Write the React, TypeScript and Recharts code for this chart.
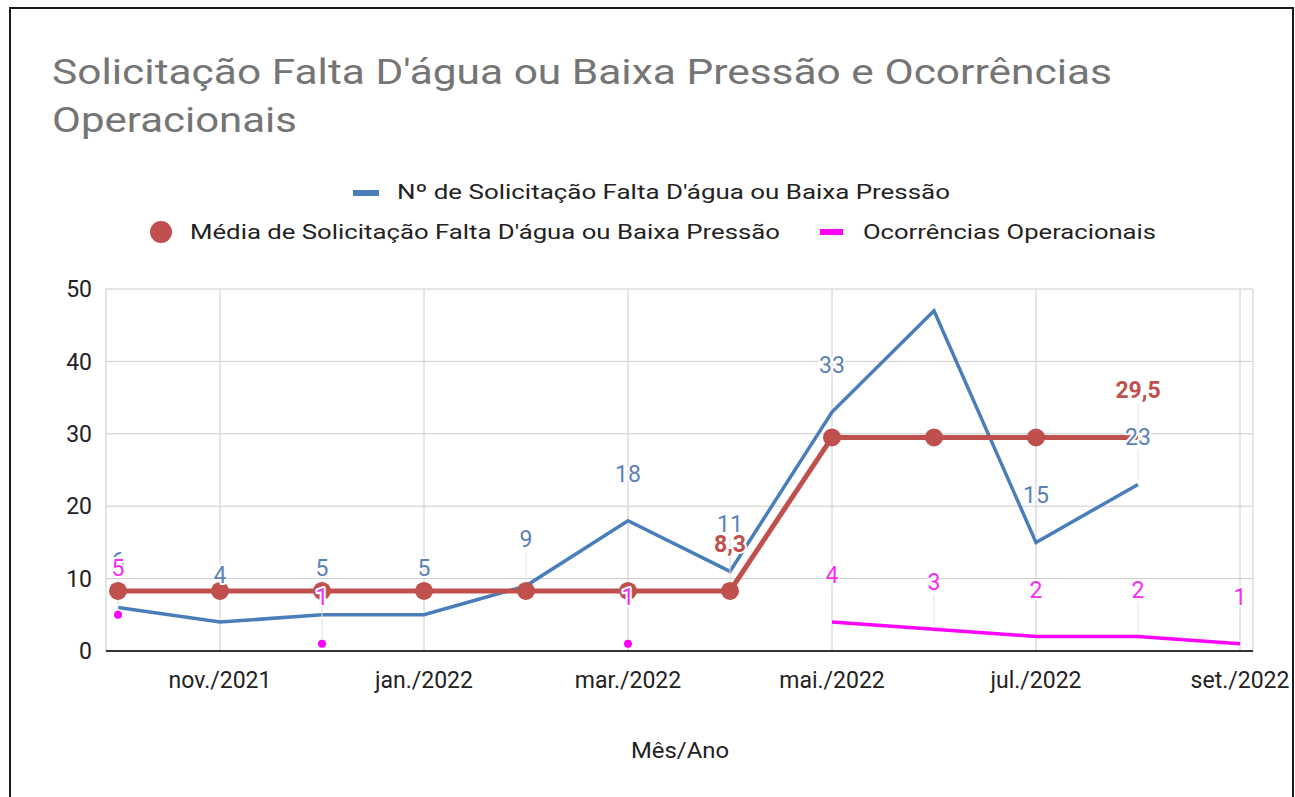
import React from 'react';
import { LineChart, Line, XAxis, YAxis, CartesianGrid, LabelList } from 'recharts';

const meses = [
  'out./2021', 'nov./2021', 'dez./2021', 'jan./2022', 'fev./2022', 'mar./2022',
  'abr./2022', 'mai./2022', 'jun./2022', 'jul./2022', 'ago./2022', 'set./2022',
];
const solicitacoes = [6, 4, 5, 5, 9, 18, 11, 33, 47, 15, 23, null];
const mediaSolicitacoes = [8.3, 8.3, 8.3, 8.3, 8.3, 8.3, 8.3, 29.5, 29.5, 29.5, 29.5, null];
const ocorrencias = [5, null, 1, null, null, 1, null, 4, 3, 2, 2, 1];
const mesesComRotulo = ['nov./2021', 'jan./2022', 'mar./2022', 'mai./2022', 'jul./2022', 'set./2022'];
const yTicks = [0, 10, 20, 30, 40, 50];

const data = meses.map((mes, i) => ({
  idx: i,
  mes,
  sol: solicitacoes[i],
  media: mediaSolicitacoes[i],
  ocor: ocorrencias[i],
}));
const xTicks = mesesComRotulo.map((m) => meses.indexOf(m));

const AZUL = '#4a7ebb';
const VERMELHO = '#c0504d';
const MAGENTA = '#ff00ff';
const FONT = 'Roboto, Arial, sans-serif';
const PLOT_TOP = 289;
const LABEL_GAP = 39;

const lastMedia = mediaSolicitacoes.reduce((acc: number, v, i) => (v == null ? acc : i), -1);

// which points get a data label
const showSol = (i: number, y: number) => solicitacoes[i] != null && y - LABEL_GAP - 17 >= PLOT_TOP;
const showMedia = (i: number) =>
  mediaSolicitacoes[i] != null && mediaSolicitacoes[i + 1] !== mediaSolicitacoes[i];
const showOcor = (i: number) => ocorrencias[i] != null;

const fmt = (v: number) => String(v).replace('.', ',');

function leader(show: (i: number, y: number) => boolean) {
  return (props: any) => {
    const { cx, cy, index } = props;
    if (cx == null || cy == null || !show(index, cy)) return <g key={`ld-${index}`} />;
    return <line key={`ld-${index}`} x1={cx} x2={cx} y1={cy - 34} y2={cy - 4} stroke="#e2e2e2" strokeWidth={1} />;
  };
}

function label(show: (i: number, y: number) => boolean, color: string, bold = false) {
  return (props: any) => {
    const x = props.x ?? props.viewBox?.x;
    const y = props.y ?? props.viewBox?.y;
    const { value, index } = props;
    if (value == null || x == null || y == null || !show(index, y)) return null;
    return (
      <text
        x={x}
        y={y - LABEL_GAP}
        textAnchor="middle"
        fill={color}
        fontWeight={bold ? 700 : 400}
        style={{
          fontFamily: FONT,
          fontSize: 23,
          stroke: '#fff',
          strokeWidth: 4,
          paintOrder: 'stroke',
          strokeLinejoin: 'round',
        }}
      >
        {fmt(value)}
      </text>
    );
  };
}

const redDot = (props: any) => {
  const { cx, cy, index } = props;
  if (cx == null || cy == null || mediaSolicitacoes[index] == null || index === lastMedia)
    return <g key={`rd-${index}`} />;
  return <circle key={`rd-${index}`} cx={cx} cy={cy} r={9} fill={VERMELHO} />;
};

const magentaDot = (props: any) => {
  const { cx, cy, index } = props;
  const alone =
    ocorrencias[index] != null && ocorrencias[index - 1] == null && ocorrencias[index + 1] == null;
  if (cx == null || cy == null || !alone) return <g key={`md-${index}`} />;
  return <circle key={`md-${index}`} cx={cx} cy={cy} r={4} fill={MAGENTA} />;
};

export default function App() {
  return (
    <div style={{ position: 'fixed', left: 0, top: 0, width: 1295, height: 797, overflow: 'hidden', background: '#fff' }}>
      <div
        style={{
          position: 'absolute',
          left: 9,
          top: 7,
          width: 1281,
          height: 900,
          border: '2px solid #1a1a1a',
        }}
      />
      <div style={{ position: 'absolute', left: 0, top: 0 }}>
        <LineChart width={1295} height={797} data={data} margin={{ top: PLOT_TOP, right: 42, bottom: 116, left: 46 }}>
          <CartesianGrid stroke="#cccccc" />
          <XAxis
            type="number"
            dataKey="idx"
            domain={[0, 11]}
            ticks={xTicks}
            interval={0}
            height={30}
            tickFormatter={(v) => meses[v]}
            padding={{ left: 12, right: 13 }}
            axisLine={{ stroke: '#333', strokeWidth: 2 }}
            tickLine={false}
            tickMargin={15}
            tick={{ fontSize: 23, fill: '#222', fontFamily: FONT }}
          />
          <YAxis
            domain={[0, 50]}
            ticks={yTicks}
            interval={0}
            width={60}
            axisLine={false}
            tickLine={false}
            tickMargin={8}
            tick={{ fontSize: 23, fill: '#222', fontFamily: FONT }}
          />
          {/* leader lines under the series */}
          <Line dataKey="sol" stroke="none" dot={leader(showSol)} activeDot={false} legendType="none" isAnimationActive={false} />
          <Line dataKey="media" stroke="none" dot={leader((i) => showMedia(i))} activeDot={false} legendType="none" isAnimationActive={false} />
          <Line dataKey="ocor" stroke="none" dot={leader((i) => showOcor(i))} activeDot={false} legendType="none" isAnimationActive={false} />

          <Line dataKey="sol" stroke={AZUL} strokeWidth={3.5} dot={false} activeDot={false} isAnimationActive={false} />
          <Line dataKey="media" stroke={VERMELHO} strokeWidth={5} dot={redDot} activeDot={false} isAnimationActive={false} />
          <Line dataKey="ocor" stroke={MAGENTA} strokeWidth={3.5} dot={magentaDot} activeDot={false} isAnimationActive={false} />

          <Line dataKey="sol" stroke="none" dot={false} activeDot={false} legendType="none" isAnimationActive={false}>
            <LabelList dataKey="sol" content={label(showSol, '#5b82b8')} />
          </Line>
          <Line dataKey="media" stroke="none" dot={false} activeDot={false} legendType="none" isAnimationActive={false}>
            <LabelList dataKey="media" content={label((i) => showMedia(i), VERMELHO, true)} />
          </Line>
          <Line dataKey="ocor" stroke="none" dot={false} activeDot={false} legendType="none" isAnimationActive={false}>
            <LabelList dataKey="ocor" content={label((i) => showOcor(i), '#f72af7')} />
          </Line>
        </LineChart>
      </div>
      <svg width={1295} height={797} style={{ position: 'absolute', left: 0, top: 0, pointerEvents: 'none' }}>
        <g style={{ fontFamily: FONT }}>
          <text x={52} y={84} fontSize={35} fill="#757575" textLength={1060} lengthAdjust="spacingAndGlyphs">
            Solicitação Falta D'água ou Baixa Pressão e Ocorrências
          </text>
          <text x={52} y={132} fontSize={35} fill="#757575" textLength={245} lengthAdjust="spacingAndGlyphs">
            Operacionais
          </text>

          <rect x={353} y={190} width={26} height={6} fill={AZUL} />
          <text x={397} y={199} fontSize={21} fill="#222" textLength={553} lengthAdjust="spacingAndGlyphs">
            Nº de Solicitação Falta D'água ou Baixa Pressão
          </text>
          <circle cx={161} cy={232} r={11} fill={VERMELHO} />
          <text x={190} y={239} fontSize={21} fill="#222" textLength={590} lengthAdjust="spacingAndGlyphs">
            Média de Solicitação Falta D'água ou Baixa Pressão
          </text>
          <rect x={820} y={229} width={23} height={6} fill={MAGENTA} />
          <text x={863} y={239} fontSize={21} fill="#222" textLength={293} lengthAdjust="spacingAndGlyphs">
            Ocorrências Operacionais
          </text>

          <text x={631} y={758} fontSize={22} fill="#222" textLength={98} lengthAdjust="spacingAndGlyphs">
            Mês/Ano
          </text>
        </g>
      </svg>
    </div>
  );
}
